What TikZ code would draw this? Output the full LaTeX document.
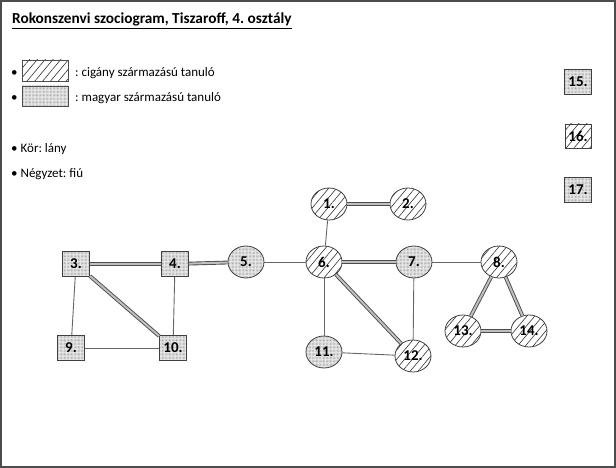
\documentclass[tikz,border=0pt]{standalone}
\usepackage{fontspec}
\setmainfont{Carlito}
\frenchspacing
\usetikzlibrary{shapes.geometric,patterns.meta}
\tikzset{
  kor/.style={ellipse,draw=black!75,line width=0.8pt,minimum width=36pt,minimum height=32pt,inner sep=0pt,font=\fontsize{15}{15}\selectfont\bfseries},
  negyzet/.style={rectangle,draw=black!75,line width=0.8pt,minimum width=27pt,minimum height=25pt,inner sep=0pt,font=\fontsize{15}{15}\selectfont\bfseries},
  cigany/.style={preaction={fill=white},pattern={Lines[angle=50,distance=6pt,line width=0.6pt]},pattern color=black!80},
  magyar/.style={preaction={fill=gray!15},pattern={Dots[distance=1.4pt,radius=0.35pt]},pattern color=black!50},
  kettos/.style={draw=black!70,line width=0.9pt,double=gray!50,double distance=2pt},
  egyes/.style={draw=black!60,line width=0.9pt},
  szoveg/.style={anchor=base west,inner sep=0pt,font=\fontsize{13}{13}\selectfont}
}
\begin{document}
\begin{tikzpicture}[x=1pt,y=-1pt]
  \useasboundingbox (0,0) rectangle (616,468);
  \draw[black!70,line width=1.5pt] (1,1) rectangle (615,467);
  %% title and legend
  \node[anchor=base west,inner sep=0pt,font=\fontsize{15.3}{15}\selectfont\bfseries] (cim) at (12,24) {\underline{Rokonszenvi szociogram, Tiszaroff, 4. osztály}};
  \node[szoveg] (p1) at (11,77) {•};
  \draw[cigany,draw=black!70,line width=0.6pt] (22,60) rectangle (68,81);
  \node[szoveg] (l1) at (75,77) {: cigány származású tanuló};
  \node[szoveg] (p2) at (11,102) {•};
  \draw[magyar,draw=black!70,line width=0.6pt] (22,86) rectangle (68,106);
  \node[szoveg] (l2) at (75,102) {: magyar származású tanuló};
  \node[szoveg] (l3) at (11,153) {•~Kör: lány};
  \node[szoveg] (l4) at (11,178) {•~Négyzet: fiú};
  %% girls
  \node[kor,cigany] (n1) at (329,204) {1.};
  \node[kor,cigany] (n2) at (408,204) {2.};
  \node[kor,magyar] (n5) at (246,262) {5.};
  \node[kor,cigany] (n6) at (324,262) {6.};
  \node[kor,magyar] (n7) at (414,262) {7.};
  \node[kor,cigany] (n8) at (499,262) {8.};
  \node[kor,magyar] (n11) at (324,352) {11.};
  \node[kor,cigany] (n12) at (413,356) {12.};
  \node[kor,cigany] (n13) at (463,331) {13.};
  \node[kor,cigany] (n14) at (529,331) {14.};
  %% boys
  \node[negyzet,magyar] (n3) at (76,264) {3.};
  \node[negyzet,magyar] (n4) at (175,264) {4.};
  \node[negyzet,magyar] (n9) at (71,348) {9.};
  \node[negyzet,magyar] (n10) at (173,348) {10.};
  \node[negyzet,magyar] (n15) at (578,82) {15.};
  \node[negyzet,cigany,minimum width=26pt,minimum height=24pt] (n16) at (578,136) {16.};
  \node[negyzet,magyar] (n17) at (578,190) {17.};
  %% mutual choices
  \draw[kettos] (n1) -- (n2);
  \draw[kettos] (n3) -- (n4);
  \draw[kettos] (n4) -- (n5);
  \draw[kettos] (n3) -- (n10);
  \draw[kettos] (n6) -- (n7);
  \draw[kettos] (n6) -- (n12);
  \draw[kettos] (n8) -- (n13);
  \draw[kettos] (n8) -- (n14);
  \draw[kettos] (n13) -- (n14);
  %% one-way choices
  \draw[egyes] (n1) -- (n6);
  \draw[egyes] (n5) -- (n6);
  \draw[egyes] (n6) -- (n11);
  \draw[egyes] (n11) -- (n12);
  \draw[egyes] (n7) -- (n12);
  \draw[egyes] (n7) -- (n8);
  \draw[egyes] (n3) -- (n9);
  \draw[egyes] (n4) -- (n10);
  \draw[egyes] (n9) -- (n10);
\end{tikzpicture}
\end{document}
